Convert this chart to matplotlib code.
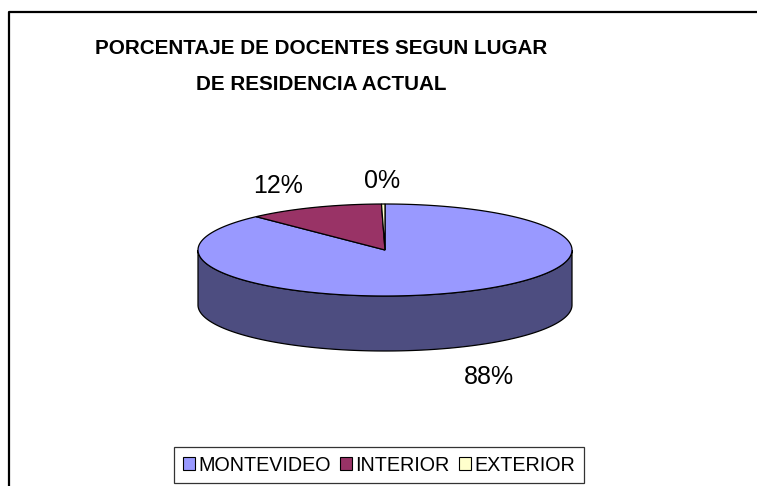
import numpy as np
import matplotlib
matplotlib.use("Agg")
import matplotlib.pyplot as plt
from matplotlib.patches import Polygon, Patch

plt.rcParams['font.family'] = ['Liberation Sans', 'DejaVu Sans']

# data
categories = ['MONTEVIDEO', 'INTERIOR', 'EXTERIOR']
values = [87.9, 11.8, 0.3]
labels = ['88%', '12%', '0%']
title_lines = ['PORCENTAJE DE DOCENTES SEGUN LUGAR', 'DE RESIDENCIA ACTUAL']
top_colors = ['#9999FF', '#993366', '#FFFFCC']
side_colors = ['#4D4D80', '#4D1A33', '#808066']

W, H = 757, 486
fig = plt.figure(figsize=(W / 100, H / 100), dpi=100)
ax = fig.add_axes([0, 0, 1, 1])
ax.set_xlim(0, W)
ax.set_ylim(H, 0)
ax.axis('off')

# outer frame (only top and left visible in reference)
ax.plot([9, 9, W + 5], [H + 5, 12, 12], color='black', lw=1.6)

for i, line in enumerate(title_lines):
    ax.text(321, 48 + 36.5 * i, line, ha='center', va='center',
            fontsize=14.9, fontweight='bold')

# 3d pie geometry (pixels)
cx, cy = 385, 250
a, b = 187, 46
depth = 55


def pt(t, dy=0):
    return cx + a * np.cos(t), cy - b * np.sin(t) + dy


fracs = np.array(values) / sum(values)
starts = np.deg2rad(90 - 360 * np.concatenate([[0], np.cumsum(fracs)[:-1]]))
ends = np.deg2rad(90 - 360 * np.cumsum(fracs))

# side walls (front half only: angles between pi and 2*pi, shifted by -2pi)
for s, e, col in zip(starts, ends, side_colors):
    lo, hi = e, s
    for k in range(-2, 2):
        f0 = max(lo, -np.pi + 2 * np.pi * k)
        f1 = min(hi, 2 * np.pi * k)
        if f1 > f0:
            t = np.linspace(f0, f1, 200)
            xs, ys = pt(t)
            xb, yb = pt(t[::-1], depth)
            poly = np.column_stack([np.concatenate([xs, xb]),
                                    np.concatenate([ys, yb])])
            ax.add_patch(Polygon(poly, closed=True, facecolor=col,
                                 edgecolor='black', lw=0.9, zorder=2))

# top faces
for s, e, col in zip(starts, ends, top_colors):
    n = max(int(abs(s - e) / (2 * np.pi) * 400), 3)
    t = np.linspace(s, e, n)
    xs, ys = pt(t)
    poly = np.column_stack([np.concatenate([[cx], xs]),
                            np.concatenate([[cy], ys])])
    ax.add_patch(Polygon(poly, closed=True, facecolor=col,
                         edgecolor='black', lw=0.9, zorder=3))

# data labels
for s, e, lab in zip(starts, ends, labels):
    m = (s + e) / 2
    lx = cx + 1.5 * a * np.cos(m)
    ly = cy - 1.5 * b * np.sin(m)
    if np.sin(m) < 0:
        ly += depth + 8
    ax.text(lx, ly, lab, ha='center', va='center', fontsize=18)

handles = [Patch(facecolor=c, edgecolor='black', lw=0.8) for c in top_colors]
leg = fig.legend(handles, categories, loc='center', ncol=3,
                 bbox_to_anchor=(379 / W, 1 - 465 / H), fontsize=14.2,
                 frameon=True, fancybox=False, handlelength=0.6,
                 handleheight=0.6, handletextpad=0.15, columnspacing=0.5,
                 borderpad=0.45, borderaxespad=0)
leg.get_frame().set_edgecolor('black')
leg.get_frame().set_linewidth(0.9)

fig.savefig('out.png', dpi=100, facecolor='white')
